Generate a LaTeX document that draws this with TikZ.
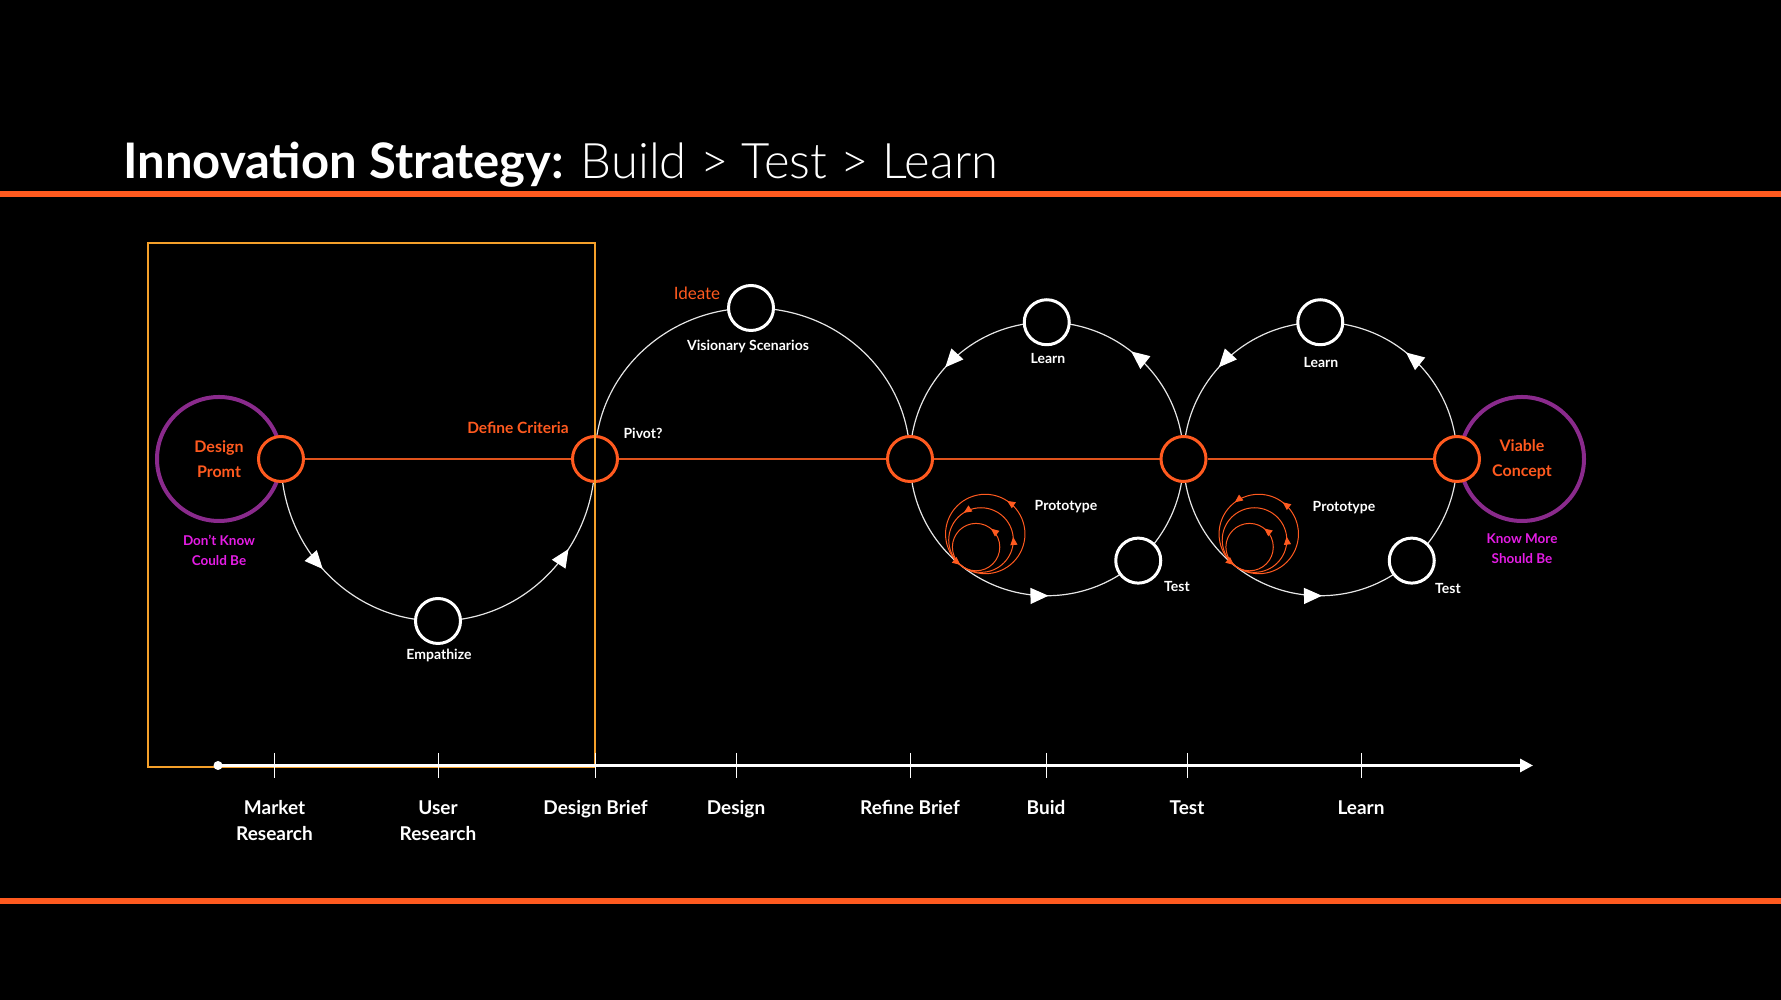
\documentclass[tikz,border=0pt]{standalone}
\usepackage{fontspec}
\setmainfont{Lato}
\newfontfamily\lightfont{Lato Light}
\usetikzlibrary{arrows.meta,decorations.markings}
\definecolor{orng}{HTML}{FF5A1F}
\definecolor{orngline}{HTML}{E0531C}
\definecolor{prpl}{HTML}{8A2A8C}
\definecolor{mgnt}{HTML}{E41DE4}
\definecolor{amber}{HTML}{F5A02A}
\definecolor{arcw}{HTML}{E6E6E6}
\pgfdeclarelayer{bgl}
\pgfdeclarelayer{arcs}
\pgfdeclarelayer{fg}
\pgfsetlayers{bgl,arcs,main,fg}
\newcommand\axtop{\vphantom{Ibdk}}
\tikzset{
  hub/.style={circle,draw=orng,line width=3pt,fill=black,minimum size=45pt,inner sep=0pt},
  stage/.style={circle,draw=white,line width=3pt,fill=black,minimum size=45pt,inner sep=0pt},
  goal/.style={circle,draw=prpl,line width=4pt,minimum size=124pt,inner sep=0pt,text=orng,align=center,font=\bfseries\fontsize{16}{25}\selectfont},
  flow/.style={draw=arcw,line width=1.2pt},
  wtip/.style={postaction={decorate,decoration={markings,mark=at position #1 with {\arrow{Triangle[length=18pt,width=16pt,color=white,fill=white]}}}}},
  otip/.style={postaction={decorate,decoration={markings,mark=at position #1 with {\arrow{Triangle[length=8pt,width=7pt,color=orng,fill=orng]}}}}},
  wlab/.style={text=white,font=\bfseries\fontsize{14}{17}\selectfont,inner sep=0pt},
  olab/.style={text=orng,font=\bfseries\fontsize{15.5}{19}\selectfont,inner sep=0pt},
  mlab/.style={text=mgnt,align=center,font=\bfseries\fontsize{13.5}{20}\selectfont,inner sep=0pt},
  axlab/.style={text=white,align=center,anchor=north,inner sep=0pt,font=\bfseries\fontsize{19}{26}\selectfont},
  tickline/.style={draw=white,line width=1pt},
  spiral/.style={draw=orng,line width=1pt},
  protoA/.pic={
    \draw[spiral,otip=0.157,otip=0.642] (0,0) circle (39.7);
    \draw[spiral,otip=0.015,otip=0.34] (-4.24,-6.06) circle (32.3);
    \draw[spiral,otip=0.142] (-9.17,-13.1) circle (23.7);
  },
  protoB/.pic={
    \draw[spiral,otip=0.147,otip=0.353,otip=0.642] (0,0) circle (39.7);
    \draw[spiral,otip=0.017] (-4.24,-6.06) circle (32.3);
    \draw[spiral,otip=0.144] (-9.17,-13.1) circle (23.7);
  },
}
\begin{document}
\begin{tikzpicture}[x=1pt,y=1pt]
\begin{pgfonlayer}{bgl}
\fill[black] (0,0) rectangle (1781,1000);
\end{pgfonlayer}
\useasboundingbox (0,0) rectangle (1781,1000);

% title and rules
\node[anchor=base west,inner sep=0pt,text=white,font=\fontsize{49}{59}\selectfont] (title) at (123,821)
  {{\bfseries Innovation Strategy:} {\lightfont Build > Test > Learn}};
\coordinate (tl) at (0,806); \coordinate (tr) at (1781,806);
\coordinate (bl) at (0,99); \coordinate (br) at (1781,99);
\draw[orng,line width=6pt] (tl) -- (tr);
\draw[orng,line width=6pt] (bl) -- (br);

% loop centres
\coordinate (c1) at (1046.75,541);
\coordinate (c2) at (1320.25,541);

% goal circles
\node[goal] (dp) at (219,541) {Design\\Promt};
\node[goal] (vc) at (1522,541) {Viable\\Concept};

% hubs
\node[hub] (h1) at (281,541) {};
\node[hub] (h2) at (595,541) {};
\node[hub] (h3) at (910,541) {};
\node[hub] (h4) at (1183.5,541) {};
\node[hub] (h5) at (1457,541) {};

% stages
\node[stage] (emp) at (438,379) {};
\node[stage] (ide) at (751,692) {};
\node[stage] (ln1) at ([shift={(90:136.75)}]c1) {};
\node[stage] (te1) at ([shift={(-48:136.75)}]c1) {};
\node[stage] (ln2) at ([shift={(90:136.75)}]c2) {};
\node[stage] (te2) at ([shift={(-48:136.75)}]c2) {};

% connectors
\begin{pgfonlayer}{arcs}
\draw[orngline,line width=1.6pt] (h1) -- (h2);
\draw[orngline,line width=1.6pt] (h2) -- (h3);
\draw[orngline,line width=1.6pt] (h3) -- (h4);
\draw[orngline,line width=1.6pt] (h4) -- (h5);
\draw[flow,wtip=0.24,wtip=0.81] (h1.center) arc[start angle=180,end angle=360,x radius=157,y radius=162];
\draw[flow] (h2.center) arc[start angle=180,end angle=0,x radius=157.5,y radius=151];
\draw[flow,wtip=0.252,wtip=0.644,wtip=0.883] (h3.center) arc[start angle=180,end angle=540,radius=136.75];
\draw[flow,wtip=0.252,wtip=0.642,wtip=0.883] (h4.center) arc[start angle=180,end angle=540,radius=136.75];
\end{pgfonlayer}

% prototype icons
\pic at ([shift={(-61.5,-75)}]c1) {protoA};
\pic at ([shift={(-61.5,-75)}]c2) {protoB};

% labels
\node[mlab] (dk) at (219,450) {Don't Know\\Could Be};
\node[mlab] (km) at (1522,451) {Know More\\Should Be};
\node[olab] (dc) at (518,572) {Define Criteria};
\node[text=orng,inner sep=0pt,font=\fontsize{17}{20}\selectfont] (idl) at (697,707) {Ideate};
\node[wlab] (empl) at (439,345) {Empathize};
\node[wlab] (vs) at (748,654) {Visionary Scenarios};
\node[wlab] (pv) at (643,567) {Pivot?};
\node[wlab] (lnl1) at (1048,641) {Learn};
\node[wlab] (lnl2) at (1321,637) {Learn};
\node[wlab] (pr1) at (1066,493) {Prototype};
\node[wlab] (pr2) at (1344,492) {Prototype};
\node[wlab] (tl1) at (1177,413) {Test};
\node[wlab] (tl2) at (1448,411) {Test};

% box and timeline
\begin{pgfonlayer}{fg}
\draw[amber,line width=2pt] (148,233) rectangle (595,757);
\coordinate (a0) at (218,234.5);
\coordinate (a1) at (1533,234.5);
\draw[white,line width=3pt,-{Triangle[length=13pt,width=13pt]}] (a0) -- (a1);
\fill[white] (a0) circle (4.5);
\foreach \x/\n in {274.5/t1,438/t2,595.5/t3,736/t4,910/t5,1046/t6,1187/t7,1361/t8}{
  \coordinate (\n a) at (\x,247);
  \coordinate (\n b) at (\x,222);
  \draw[tickline] (\n a) -- (\n b);
}
\end{pgfonlayer}
\node[axlab] (l1) at (274.5,199.5) {\axtop Market\\Research};
\node[axlab] (l2) at (438,199.5) {\axtop User\\Research};
\node[axlab] (l3) at (595.5,199.5) {\axtop Design Brief};
\node[axlab] (l4) at (736,199.5) {\axtop Design};
\node[axlab] (l5) at (910,199.5) {\axtop Refine Brief};
\node[axlab] (l6) at (1046,199.5) {\axtop Buid};
\node[axlab] (l7) at (1187,199.5) {\axtop Test};
\node[axlab] (l8) at (1361,199.5) {\axtop Learn};
\end{tikzpicture}
\end{document}
